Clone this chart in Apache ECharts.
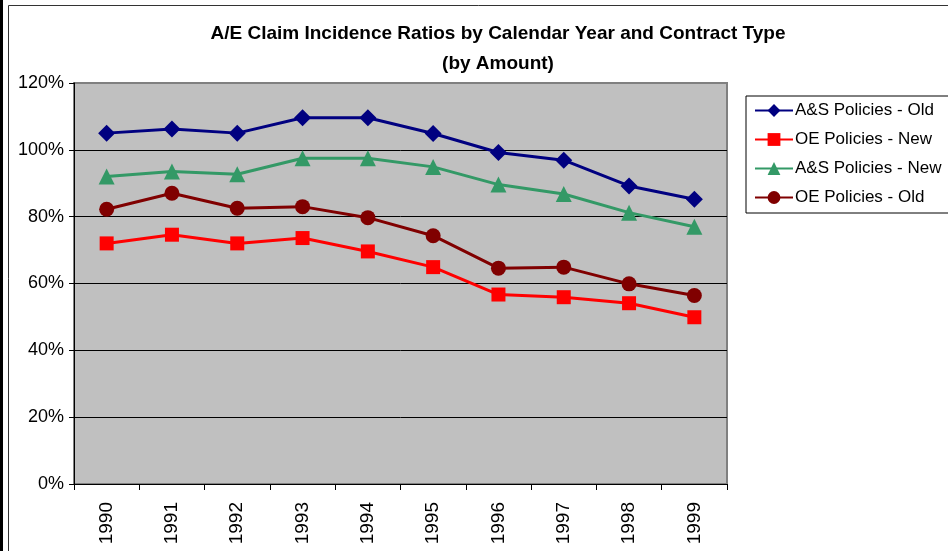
<!DOCTYPE html>
<html>
  <head>
    <meta charset="UTF-8" />
    <title>A/E Claim Incidence Ratios</title>
    <style>
      html,
      body {
        margin: 0;
        padding: 0;
        background: #fff;
      }
      #main {
        width: 948px;
        height: 551px;
      }
    </style>
    <script src="https://cdn.jsdelivr.net/npm/echarts@6/dist/echarts.min.js"></script>
  </head>
  <body>
    <div id="main"></div>
    <script>
      var years = ["1990", "1991", "1992", "1993", "1994", "1995", "1996", "1997", "1998", "1999"];
      var asOld = [105, 106.2, 105, 109.6, 109.6, 104.9, 99.2, 96.9, 89.2, 85.2];
      var oeNew = [72, 74.6, 72, 73.6, 69.6, 64.9, 56.7, 55.9, 54.1, 49.9];
      var asNew = [92, 93.5, 92.7, 97.5, 97.5, 94.9, 89.6, 86.8, 81.2, 77];
      var oeOld = [82.2, 87, 82.5, 83, 79.7, 74.3, 64.6, 64.9, 59.9, 56.4];

      var font = "Liberation Sans, Arial, sans-serif";
      var chart = echarts.init(document.getElementById("main"));

      function line(name, data, color, symbol, size) {
        return {
          name: name,
          type: "line",
          data: data,
          symbol: symbol,
          symbolSize: size,
          lineStyle: { color: color, width: 3 },
          itemStyle: { color: color },
          animation: false,
        };
      }

      chart.setOption({
        animation: false,
        backgroundColor: "#fff",
        title: {
          text: "A/E Claim Incidence Ratios by Calendar Year and Contract Type\n(by Amount)",
          left: 493,
          textAlign: "center",
          top: 14,
          textStyle: {
            fontFamily: font,
            fontWeight: "bold",
            fontSize: 19,
            lineHeight: 30,
            color: "#000",
          },
        },
        graphic: [
          { type: "rect", shape: { x: 0, y: 0, width: 3, height: 551 }, style: { fill: "#000" } },
          {
            type: "polyline",
            shape: { points: [[8.5, 551], [8.5, 5.5], [948, 5.5]] },
            style: { stroke: "#333", lineWidth: 1, fill: null },
          },
        ],
        legend: {
          orient: "vertical",
          left: 746,
          top: 96,
          padding: [6, 10, 7, 8],
          itemGap: 12,
          itemWidth: 38,
          itemHeight: 16,
          borderColor: "#000",
          borderWidth: 1,
          borderRadius: 0,
          textStyle: { fontFamily: font, fontSize: 17, color: "#000", padding: [0, 0, 0, -3] },
          data: ["A&S Policies - Old", "OE Policies - New", "A&S Policies - New", "OE Policies - Old"],
        },
        grid: {
          left: 74,
          top: 83,
          right: 221,
          bottom: 67,
          show: true,
          backgroundColor: "#c0c0c0",
          borderColor: "#808080",
          borderWidth: 2,
        },
        xAxis: {
          type: "category",
          data: years,
          boundaryGap: true,
          axisLine: { lineStyle: { color: "#000", width: 1 } },
          axisTick: { show: true, length: 6, lineStyle: { color: "#000" } },
          axisLabel: {
            rotate: 90,
            margin: 18,
            fontFamily: font,
            fontSize: 19,
            color: "#000",
          },
        },
        yAxis: {
          type: "value",
          min: 0,
          max: 120,
          interval: 20,
          axisLine: { show: true, lineStyle: { color: "#000" } },
          axisTick: { show: true, length: 5, lineStyle: { color: "#000" } },
          axisLabel: {
            formatter: "{value}%",
            margin: 10,
            fontFamily: font,
            fontSize: 18,
            color: "#000",
          },
          splitLine: { show: true, showMaxLine: false, lineStyle: { color: "#000", width: 1 } },
        },
        series: [
          line("A&S Policies - Old", asOld, "#000080", "diamond", 17),
          line("OE Policies - New", oeNew, "#ff0000", "rect", 14),
          line("A&S Policies - New", asNew, "#339966", "triangle", 16),
          line("OE Policies - Old", oeOld, "#800000", "circle", 15),
        ],
      });
    </script>
  </body>
</html>
